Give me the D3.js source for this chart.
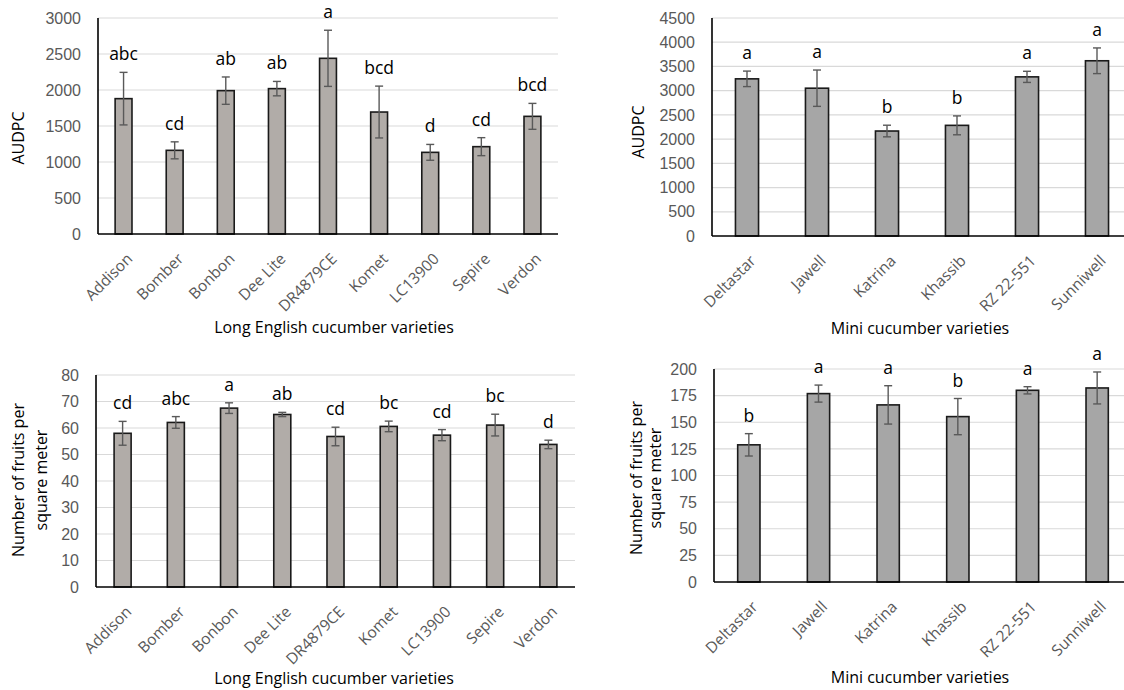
<!DOCTYPE html>
<html>
<head>
<meta charset="utf-8">
<script src="https://cdn.jsdelivr.net/npm/d3@7"></script>
<style>
  body { margin: 0; background: #fff; overflow: hidden; }
  svg { display: block; font-family: "Open Sans", "Noto Sans", sans-serif; }
</style>
</head>
<body>
<svg id="chart" width="1124" height="690"></svg>
<script>
// categories
var longVarieties = ["Addison", "Bomber", "Bonbon", "Dee Lite", "DR4879CE", "Komet", "LC13900", "Sepire", "Verdon"];
var miniVarieties = ["Deltastar", "Jawell", "Katrina", "Khassib", "RZ 22-551", "Sunniwell"];

// AUDPC, long English
var longAudpc = [1880, 1162, 1991, 2019, 2440, 1694, 1134, 1213, 1634];
var longAudpcErr = [365, 118, 190, 100, 390, 360, 110, 125, 180];
var longAudpcLetters = ["abc", "cd", "ab", "ab", "a", "bcd", "d", "cd", "bcd"];

// AUDPC, mini
var miniAudpc = [3244, 3051, 2167, 2284, 3285, 3617];
var miniAudpcErr = [160, 375, 120, 195, 115, 265];
var miniAudpcLetters = ["a", "a", "b", "b", "a", "a"];

// fruits per m2, long English
var longFruits = [58, 62.1, 67.5, 65.1, 56.8, 60.6, 57.3, 61.1, 53.8];
var longFruitsErr = [4.5, 2.2, 2, 0.8, 3.5, 2, 2.1, 4.1, 1.6];
var longFruitsLetters = ["cd", "abc", "a", "ab", "cd", "bc", "cd", "bc", "d"];

// fruits per m2, mini
var miniFruits = [128.8, 176.9, 166.3, 155.3, 180, 182.2];
var miniFruitsErr = [10.5, 8, 18, 17, 3.4, 15];
var miniFruitsLetters = ["b", "a", "a", "b", "a", "a"];

// tick labels
var longAudpcTicks = [0, 500, 1000, 1500, 2000, 2500, 3000];
var miniAudpcTicks = [0, 500, 1000, 1500, 2000, 2500, 3000, 3500, 4000, 4500];
var longFruitsTicks = [0, 10, 20, 30, 40, 50, 60, 70, 80];
var miniFruitsTicks = [0, 25, 50, 75, 100, 125, 150, 175, 200];

var svg = d3.select("#chart");

function drawPanel(p) {
    var g = svg.append("g");

    var x = d3.scaleBand()
        .domain(p.cats)
        .range([p.left, p.right])
        .paddingInner(p.pad)
        .paddingOuter(p.pad / 2);

    var y = d3.scaleLinear()
        .domain([0, p.ticks[p.ticks.length - 1]])
        .range([p.bottom, p.top]);

    // gridlines
    g.selectAll(".grid")
        .data(p.ticks.slice(1))
        .enter().append("line")
        .attr("x1", p.left).attr("x2", p.right)
        .attr("y1", d => y(d)).attr("y2", d => y(d))
        .style("stroke", "#d9d9d9")
        .style("stroke-width", 1.2);

    // y axis
    var yAxis = d3.axisLeft(y).tickValues(p.ticks).tickFormat(d3.format("d")).tickSize(0).tickPadding(17);
    var ya = g.append("g").attr("transform", "translate(" + p.left + ",0)").call(yAxis);
    ya.select(".domain").remove();
    ya.selectAll("text")
        .style("font-size", "16px")
        .style("fill", "#595959")
        .style("font-family", "inherit");

    // bars
    var data = p.cats.map((c, i) => ({cat: c, v: p.values[i], e: p.errs[i], l: p.letters[i]}));

    g.selectAll(".bar")
        .data(data)
        .enter().append("rect")
        .attr("x", d => x(d.cat))
        .attr("width", x.bandwidth())
        .attr("y", d => y(d.v))
        .attr("height", d => y(0) - y(d.v))
        .style("fill", p.fill)
        .style("stroke", "#1a1a1a")
        .style("stroke-width", 1.6);

    // error bars
    var cx = d => x(d.cat) + x.bandwidth() / 2;
    g.selectAll(".err")
        .data(data)
        .enter().append("line")
        .attr("x1", cx).attr("x2", cx)
        .attr("y1", d => y(d.v + d.e)).attr("y2", d => y(d.v - d.e))
        .style("stroke", "#595959").style("stroke-width", 1.4);
    [1, -1].forEach(s => {
        g.selectAll(".cap")
            .data(data)
            .enter().append("line")
            .attr("x1", d => cx(d) - 4).attr("x2", d => cx(d) + 4)
            .attr("y1", d => y(d.v + s * d.e)).attr("y2", d => y(d.v + s * d.e))
            .style("stroke", "#595959").style("stroke-width", 1.4);
    });

    // letters
    g.selectAll(".letter")
        .data(data)
        .enter().append("text")
        .attr("x", cx)
        .attr("y", d => y(d.v + d.e) - 12)
        .attr("text-anchor", "middle")
        .style("font-size", "17.5px")
        .style("fill", "#000")
        .text(d => d.l);

    // axis lines
    g.append("line")
        .attr("x1", p.left).attr("x2", p.left)
        .attr("y1", p.top).attr("y2", p.bottom)
        .style("stroke", "#000").style("stroke-width", 1.6);
    g.append("line")
        .attr("x1", p.left).attr("x2", p.right)
        .attr("y1", p.bottom).attr("y2", p.bottom)
        .style("stroke", "#000").style("stroke-width", 1.6);

    // category labels
    g.selectAll(".cat")
        .data(data)
        .enter().append("text")
        .attr("transform", d => "translate(" + (cx(d) + 6) + "," + (p.bottom + 22) + ") rotate(-45)")
        .attr("text-anchor", "end")
        .attr("dy", "0.35em")
        .style("font-size", "15.5px")
        .style("fill", "#595959")
        .text(d => d.cat);

    // x title
    g.append("text")
        .attr("x", p.xTitleX).attr("y", p.xTitleY)
        .attr("text-anchor", "middle")
        .style("font-size", "16px")
        .style("fill", "#000")
        .text(p.xTitle);

    // y title (one or two lines)
    var yt = g.append("text")
        .attr("transform", "translate(" + p.yTitleX + "," + p.yTitleY + ") rotate(-90)")
        .attr("text-anchor", "middle")
        .style("font-size", "16px")
        .style("fill", "#000");
    p.yTitle.forEach((t, i) => {
        yt.append("tspan")
            .attr("x", 0)
            .attr("dy", i === 0 ? (0.35 - (p.yTitle.length - 1) * p.yLineGap / 2 / 16) + "em" : p.yLineGap + "px")
            .text(t);
    });
}

drawPanel({
    cats: longVarieties, values: longAudpc, errs: longAudpcErr, letters: longAudpcLetters,
    ticks: longAudpcTicks, left: 98, right: 558, top: 18, bottom: 234, pad: 0.67,
    fill: "#b1aca8",
    xTitle: "Long English cucumber varieties", xTitleX: 334, xTitleY: 333,
    yTitle: ["AUDPC"], yTitleX: 18, yTitleY: 138, yLineGap: 0
});

drawPanel({
    cats: miniVarieties, values: miniAudpc, errs: miniAudpcErr, letters: miniAudpcLetters,
    ticks: miniAudpcTicks, left: 712, right: 1132, top: 18, bottom: 236, pad: 0.67,
    fill: "#a6a6a6",
    xTitle: "Mini cucumber varieties", xTitleX: 920, xTitleY: 334,
    yTitle: ["AUDPC"], yTitleX: 638, yTitleY: 132, yLineGap: 0
});

drawPanel({
    cats: longVarieties, values: longFruits, errs: longFruitsErr, letters: longFruitsLetters,
    ticks: longFruitsTicks, left: 96, right: 575, top: 375, bottom: 587, pad: 0.68,
    fill: "#b1aca8",
    xTitle: "Long English cucumber varieties", xTitleX: 334, xTitleY: 684,
    yTitle: ["Number of fruits per", "square meter"], yTitleX: 30, yTitleY: 480, yLineGap: 23
});

drawPanel({
    cats: miniVarieties, values: miniFruits, errs: miniFruitsErr, letters: miniFruitsLetters,
    ticks: miniFruitsTicks, left: 714, right: 1132, top: 369, bottom: 582, pad: 0.68,
    fill: "#a6a6a6",
    xTitle: "Mini cucumber varieties", xTitleX: 920, xTitleY: 683,
    yTitle: ["Number of fruits per", "square meter"], yTitleX: 646, yTitleY: 478, yLineGap: 19
});
</script>
</body>
</html>
